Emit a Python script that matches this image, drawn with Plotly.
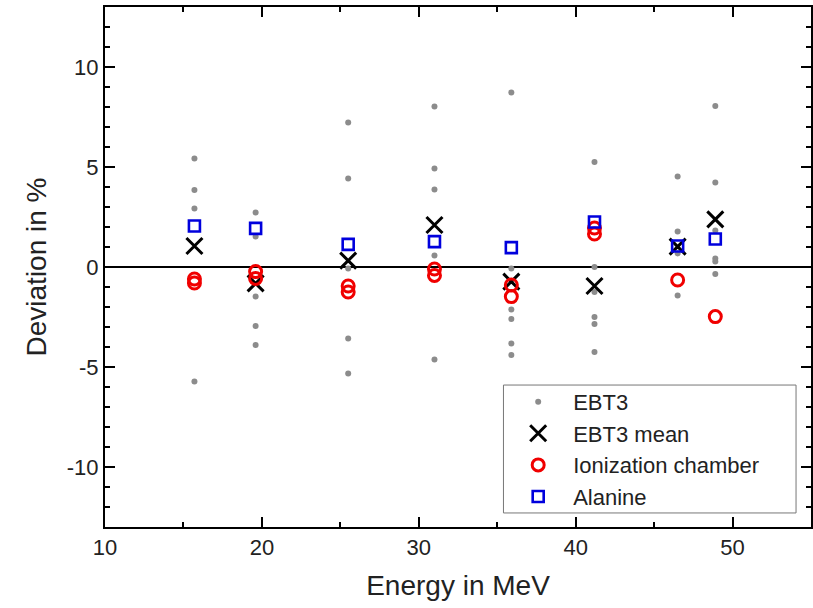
import plotly.graph_objects as go

# ---- data ----
energies = [15.7, 19.6, 25.5, 31.0, 35.9, 41.2, 46.5, 48.9]

ebt3_by_energy = [
    [5.43, 3.85, 2.93, -5.73],
    [2.72, 1.52, -1.48, -2.95, -3.90],
    [7.22, 4.43, -0.07, -3.57, -5.32],
    [8.02, 4.93, 3.88, 0.57, -4.62],
    [8.73, -0.07, -2.12, -2.60, -3.82, -4.40],
    [5.25, 0.00, -1.25, -2.50, -2.85, -4.25],
    [4.52, 1.77, 0.68, -1.43],
    [8.05, 4.23, 1.82, 0.43, 0.27, -0.35],
]
ebt3_mean = [1.05, -0.82, 0.32, 2.10, -0.73, -0.95, 1.02, 2.38]
ion_chamber_by_energy = [
    [-0.60, -0.80],
    [-0.23, -0.57],
    [-0.95, -1.25],
    [-0.10, -0.42],
    [-0.90, -1.48],
    [1.95, 1.65],
    [-0.65],
    [-2.48],
]
alanine = [2.05, 1.93, 1.13, 1.27, 0.97, 2.25, 1.05, 1.40]

x_tick_vals = [10, 20, 30, 40, 50]
x_tick_text = ["10", "20", "30", "40", "50"]
y_tick_vals = [-10, -5, 0, 5, 10]
y_tick_text = ["-10", "-5", "0", "5", "10"]

# flatten grouped series
ebt3_x = [e for e, vals in zip(energies, ebt3_by_energy) for _ in vals]
ebt3_y = [v for vals in ebt3_by_energy for v in vals]
ic_x = [e for e, vals in zip(energies, ion_chamber_by_energy) for _ in vals]
ic_y = [v for vals in ion_chamber_by_energy for v in vals]

FONT = "Liberation Sans, Arial, sans-serif"

fig = go.Figure()
fig.add_trace(go.Scatter(
    x=ebt3_x, y=ebt3_y, mode="markers", name="EBT3",
    marker=dict(symbol="circle", size=6, color="#8c8c8c"),
))
fig.add_trace(go.Scatter(
    x=energies, y=ebt3_mean, mode="markers", name="EBT3 mean",
    marker=dict(symbol="x-thin-open", size=16, color="black",
                line=dict(width=3, color="black")),
))
fig.add_trace(go.Scatter(
    x=ic_x, y=ic_y, mode="markers", name="Ionization chamber",
    marker=dict(symbol="circle-open", size=12, color="#f00000",
                line=dict(width=3, color="#f00000")),
))
fig.add_trace(go.Scatter(
    x=energies, y=alanine, mode="markers", name="Alanine",
    marker=dict(symbol="square-open", size=11, color="#0000dd",
                line=dict(width=2.6, color="#0000dd")),
))

axis_common = dict(
    showline=True, linecolor="black", linewidth=2, mirror="allticks",
    ticks="inside", ticklen=10, tickwidth=1.5, tickcolor="black",
    showgrid=False,
    tickfont=dict(family=FONT, size=22, color="#222"),
)

fig.update_xaxes(
    range=[10, 55], tickvals=x_tick_vals, ticktext=x_tick_text,
    minor=dict(dtick=5, tick0=0, ticks="inside", ticklen=5, tickwidth=1.5,
               tickcolor="black", showgrid=False),
    title=dict(text="Energy in MeV", font=dict(family=FONT, size=28, color="#222"),
               standoff=16),
    zeroline=False,
    **axis_common,
)
fig.update_yaxes(
    range=[-13, 13], tickvals=y_tick_vals, ticktext=y_tick_text,
    minor=dict(dtick=1, tick0=0, ticks="inside", ticklen=5, tickwidth=1.5,
               tickcolor="black", showgrid=False),
    title=dict(text="Deviation in %", font=dict(family=FONT, size=28, color="#222"),
               standoff=12),
    zeroline=True, zerolinecolor="black", zerolinewidth=1.5,
    **axis_common,
)

# legend frame (the legend itself is drawn on top of it)
fig.add_shape(
    type="rect", xref="paper", yref="paper",
    x0=0.5644, x1=0.9788, y0=0.027, y1=0.273,
    line=dict(color="#777", width=1), fillcolor="white", layer="above",
)

fig.update_layout(
    width=813, height=608,
    margin=dict(l=105, r=2, t=7, b=81, autoexpand=False),
    paper_bgcolor="white", plot_bgcolor="white",
    font=dict(family=FONT, color="#222"),
    legend=dict(
        x=0.564, y=0.281, xanchor="left", yanchor="top",
        bgcolor="rgba(0,0,0,0)", borderwidth=0,
        font=dict(family=FONT, size=22, color="#222"),
        tracegroupgap=0, itemwidth=60,
    ),
)

fig.write_html("out.html")
